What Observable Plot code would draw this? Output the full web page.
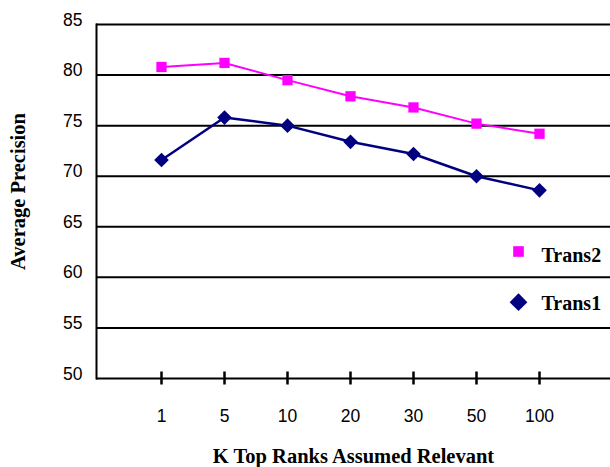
<!DOCTYPE html>
<html><head><meta charset="utf-8">
<script src="https://cdn.jsdelivr.net/npm/d3@7"></script>
<script src="https://cdn.jsdelivr.net/npm/@observablehq/plot@0.6"></script>
<style>body{margin:0;background:#fff;overflow:hidden;}</style>
</head><body><div id="chart"></div>
<script>
const kLabels = ["1", "5", "10", "20", "30", "50", "100"];
const trans2 = [80.8, 81.2, 79.5, 77.9, 76.8, 75.2, 74.2];
const trans1 = [71.6, 75.8, 75.0, 73.4, 72.2, 70.0, 68.6];
const yTicks = [50, 55, 60, 65, 70, 75, 80, 85];
const seriesNames = ["Trans2", "Trans1"];
const seriesColors = ["#FF00FF", "#000080"];
const xTitle = "K Top Ranks Assumed Relevant";
const yTitle = "Average Precision";

const rows2 = kLabels.map((k, i) => ({k, v: trans2[i]}));
const rows1 = kLabels.map((k, i) => ({k, v: trans1[i]}));

const serif = "'Liberation Serif', 'Times New Roman', serif";
const sans = "'Liberation Sans', Arial, sans-serif";

const legendMarks = [
  Plot.dot([0], {frameAnchor: "top-right", dx: -92, dy: 227, symbol: "square", r: 6, fill: seriesColors[0]}),
  Plot.text([seriesNames[0]], {frameAnchor: "top-right", dx: -69, dy: 255 - 24, textAnchor: "start", lineAnchor: "middle", fontFamily: serif, fontWeight: "bold", fontSize: 20, fill: "black"}),
  Plot.dot([0], {frameAnchor: "top-right", dx: -92, dy: 277.7, symbol: "diamond2", r: 8, fill: seriesColors[1]}),
  Plot.text([seriesNames[1]], {frameAnchor: "top-right", dx: -69, dy: 303 - 24, textAnchor: "start", lineAnchor: "middle", fontFamily: serif, fontWeight: "bold", fontSize: 20, fill: "black"})
];

const chart = Plot.plot({
  width: 610,
  height: 467,
  marginTop: 24,
  marginBottom: 89,
  marginLeft: 96,
  marginRight: 0,
  style: {fontFamily: sans, fontSize: "17px", background: "white", color: "black", overflow: "visible"},
  x: {type: "point", domain: kLabels, range: [159.8, 540.5], padding: 0, axis: null},
  y: {domain: [50, 85], axis: null},
  marks: [
    Plot.ruleY(yTicks, {stroke: "black", strokeWidth: 2}),
    Plot.frame({anchor: "left", stroke: "black", strokeWidth: 2}),
    Plot.ruleX(kLabels, {x: d => d, y1: 50, y2: 50, insetTop: -6.5, insetBottom: -6.5, stroke: "black", strokeWidth: 2.5}),
    Plot.text(yTicks, {y: d => d, text: d => String(d), frameAnchor: "left", dx: -14, dy: -4.5, textAnchor: "end", lineAnchor: "middle", fontFamily: sans, fontSize: 17.5, fill: "black"}),
    Plot.text(kLabels, {x: d => d, y: 50, text: d => d, dy: 37.5, textAnchor: "middle", lineAnchor: "middle", fontFamily: sans, fontSize: 17.5, fill: "black"}),
    Plot.line(rows2, {x: "k", y: "v", stroke: seriesColors[0], strokeWidth: 2}),
    Plot.dot(rows2, {x: "k", y: "v", symbol: "square", r: 5.8, fill: seriesColors[0]}),
    Plot.line(rows1, {x: "k", y: "v", stroke: seriesColors[1], strokeWidth: 2.5}),
    Plot.dot(rows1, {x: "k", y: "v", symbol: "diamond2", r: 6.6, fill: seriesColors[1]}),
    Plot.text([xTitle], {frameAnchor: "bottom", dy: 78, textAnchor: "middle", lineAnchor: "middle", fontFamily: serif, fontWeight: "bold", fontSize: 20.5, fill: "black"}),
    Plot.text([yTitle], {frameAnchor: "left", dx: -78, dy: -10, rotate: -90, textAnchor: "middle", lineAnchor: "middle", fontFamily: serif, fontWeight: "bold", fontSize: 20.5, fill: "black"}),
    ...legendMarks
  ]
});
document.getElementById("chart").appendChild(chart);
</script>
</body></html>
